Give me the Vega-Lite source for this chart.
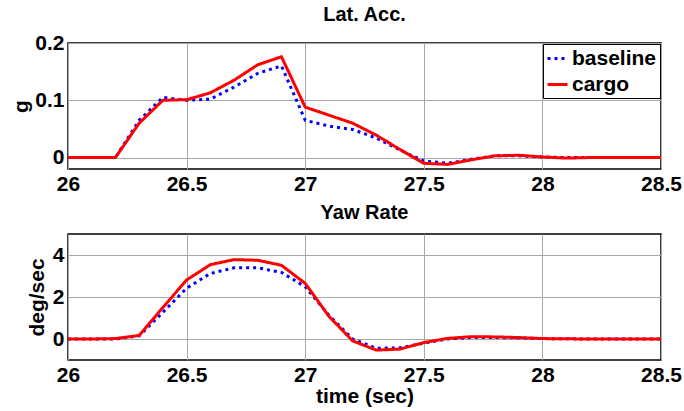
{
  "$schema": "https://vega.github.io/schema/vega-lite/v6.json",
  "background": "white",
  "padding": {"left": 10, "top": 4, "right": 4, "bottom": 2},
  "datasets": {
    "lat": [
      {"t": 26.0, "series": "baseline", "v": 0}, {"t": 26.0, "series": "cargo", "v": 0},
      {"t": 26.1, "series": "baseline", "v": 0}, {"t": 26.1, "series": "cargo", "v": 0},
      {"t": 26.2, "series": "baseline", "v": 0}, {"t": 26.2, "series": "cargo", "v": 0},
      {"t": 26.3, "series": "baseline", "v": 0.065}, {"t": 26.3, "series": "cargo", "v": 0.06},
      {"t": 26.4, "series": "baseline", "v": 0.105}, {"t": 26.4, "series": "cargo", "v": 0.1},
      {"t": 26.5, "series": "baseline", "v": 0.1}, {"t": 26.5, "series": "cargo", "v": 0.101},
      {"t": 26.6, "series": "baseline", "v": 0.102}, {"t": 26.6, "series": "cargo", "v": 0.113},
      {"t": 26.7, "series": "baseline", "v": 0.123}, {"t": 26.7, "series": "cargo", "v": 0.135},
      {"t": 26.8, "series": "baseline", "v": 0.147}, {"t": 26.8, "series": "cargo", "v": 0.162},
      {"t": 26.9, "series": "baseline", "v": 0.16}, {"t": 26.9, "series": "cargo", "v": 0.176},
      {"t": 27.0, "series": "baseline", "v": 0.065}, {"t": 27.0, "series": "cargo", "v": 0.088},
      {"t": 27.1, "series": "baseline", "v": 0.055}, {"t": 27.1, "series": "cargo", "v": 0.074},
      {"t": 27.2, "series": "baseline", "v": 0.049}, {"t": 27.2, "series": "cargo", "v": 0.06},
      {"t": 27.3, "series": "baseline", "v": 0.034}, {"t": 27.3, "series": "cargo", "v": 0.039},
      {"t": 27.4, "series": "baseline", "v": 0.013}, {"t": 27.4, "series": "cargo", "v": 0.014},
      {"t": 27.5, "series": "baseline", "v": -0.006}, {"t": 27.5, "series": "cargo", "v": -0.01},
      {"t": 27.6, "series": "baseline", "v": -0.01}, {"t": 27.6, "series": "cargo", "v": -0.012},
      {"t": 27.7, "series": "baseline", "v": -0.003}, {"t": 27.7, "series": "cargo", "v": -0.004},
      {"t": 27.8, "series": "baseline", "v": 0.003}, {"t": 27.8, "series": "cargo", "v": 0.003},
      {"t": 27.9, "series": "baseline", "v": 0.003}, {"t": 27.9, "series": "cargo", "v": 0.004},
      {"t": 28.0, "series": "baseline", "v": 0.001}, {"t": 28.0, "series": "cargo", "v": 0.001},
      {"t": 28.1, "series": "baseline", "v": 0}, {"t": 28.1, "series": "cargo", "v": -0.001},
      {"t": 28.2, "series": "baseline", "v": 0}, {"t": 28.2, "series": "cargo", "v": 0},
      {"t": 28.3, "series": "baseline", "v": 0}, {"t": 28.3, "series": "cargo", "v": 0},
      {"t": 28.4, "series": "baseline", "v": 0}, {"t": 28.4, "series": "cargo", "v": 0},
      {"t": 28.5, "series": "baseline", "v": 0}, {"t": 28.5, "series": "cargo", "v": 0}
    ],
    "yaw": [
      {"t": 26.0, "series": "baseline", "v": 0}, {"t": 26.0, "series": "cargo", "v": 0},
      {"t": 26.1, "series": "baseline", "v": 0}, {"t": 26.1, "series": "cargo", "v": 0},
      {"t": 26.2, "series": "baseline", "v": 0}, {"t": 26.2, "series": "cargo", "v": 0.02},
      {"t": 26.3, "series": "baseline", "v": 0.15}, {"t": 26.3, "series": "cargo", "v": 0.17},
      {"t": 26.4, "series": "baseline", "v": 1.27}, {"t": 26.4, "series": "cargo", "v": 1.5},
      {"t": 26.5, "series": "baseline", "v": 2.42}, {"t": 26.5, "series": "cargo", "v": 2.81},
      {"t": 26.6, "series": "baseline", "v": 3.12}, {"t": 26.6, "series": "cargo", "v": 3.54},
      {"t": 26.7, "series": "baseline", "v": 3.39}, {"t": 26.7, "series": "cargo", "v": 3.78},
      {"t": 26.8, "series": "baseline", "v": 3.39}, {"t": 26.8, "series": "cargo", "v": 3.75},
      {"t": 26.9, "series": "baseline", "v": 3.17}, {"t": 26.9, "series": "cargo", "v": 3.51},
      {"t": 27.0, "series": "baseline", "v": 2.49}, {"t": 27.0, "series": "cargo", "v": 2.65},
      {"t": 27.1, "series": "baseline", "v": 1.13}, {"t": 27.1, "series": "cargo", "v": 1.08},
      {"t": 27.2, "series": "baseline", "v": 0.0}, {"t": 27.2, "series": "cargo", "v": -0.09},
      {"t": 27.3, "series": "baseline", "v": -0.44}, {"t": 27.3, "series": "cargo", "v": -0.53},
      {"t": 27.4, "series": "baseline", "v": -0.42}, {"t": 27.4, "series": "cargo", "v": -0.48},
      {"t": 27.5, "series": "baseline", "v": -0.2}, {"t": 27.5, "series": "cargo", "v": -0.17},
      {"t": 27.6, "series": "baseline", "v": 0.0}, {"t": 27.6, "series": "cargo", "v": 0.03},
      {"t": 27.7, "series": "baseline", "v": 0.07}, {"t": 27.7, "series": "cargo", "v": 0.11},
      {"t": 27.8, "series": "baseline", "v": 0.07}, {"t": 27.8, "series": "cargo", "v": 0.1},
      {"t": 27.9, "series": "baseline", "v": 0.05}, {"t": 27.9, "series": "cargo", "v": 0.07},
      {"t": 28.0, "series": "baseline", "v": 0.02}, {"t": 28.0, "series": "cargo", "v": 0.02},
      {"t": 28.1, "series": "baseline", "v": 0.01}, {"t": 28.1, "series": "cargo", "v": 0.01},
      {"t": 28.2, "series": "baseline", "v": 0}, {"t": 28.2, "series": "cargo", "v": 0},
      {"t": 28.3, "series": "baseline", "v": 0}, {"t": 28.3, "series": "cargo", "v": 0},
      {"t": 28.4, "series": "baseline", "v": 0}, {"t": 28.4, "series": "cargo", "v": 0},
      {"t": 28.5, "series": "baseline", "v": 0}, {"t": 28.5, "series": "cargo", "v": 0}
    ]
  },
  "config": {
    "font": "Liberation Sans",
    "view": {"stroke": "black", "strokeWidth": 1.5},
    "axis": {
      "labelFont": "Liberation Sans", "labelFontSize": 21, "labelFontWeight": "bold", "labelColor": "black",
      "titleFont": "Liberation Sans", "titleFontSize": 21, "titleFontWeight": "bold", "titleColor": "black",
      "grid": true, "gridColor": "#a8a8a8", "gridWidth": 1, "ticks": false, "domain": false, "labelPadding": 4
    },
    "title": {"font": "Liberation Sans", "fontSize": 20, "fontWeight": "bold", "color": "black"},
    "legend": {
      "labelFont": "Liberation Sans", "labelFontSize": 21, "labelFontWeight": "bold", "labelColor": "black"
    }
  },
  "bounds": "flush",
  "spacing": 65,
  "vconcat": [
    {
      "width": 593, "height": 126,
      "title": {"text": "Lat. Acc.", "offset": 7},
      "data": {"name": "lat"},
      "mark": {"type": "line", "strokeWidth": 3},
      "encoding": {
        "x": {"field": "t", "type": "quantitative", "scale": {"domain": [26, 28.5], "nice": false, "zero": false},
              "axis": {"values": [26, 26.5, 27, 27.5, 28, 28.5], "title": null, "labelFlush": false, "format": "~g"}},
        "y": {"field": "v", "type": "quantitative", "scale": {"domain": [-0.02, 0.2], "nice": false, "zero": false},
              "axis": {"values": [0, 0.1, 0.2], "title": "g", "titlePadding": 3, "format": "~g"}},
        "color": {"field": "series", "type": "nominal",
                  "scale": {"domain": ["baseline", "cargo"], "range": ["#0000ff", "#ff0000"]},
                  "legend": {"title": null, "orient": "top-right", "offset": 1, "symbolType": "stroke", "symbolStrokeWidth": 3, "symbolSize": 400, "strokeColor": "black", "fillColor": "white", "padding": 3, "rowPadding": 4, "labelOffset": 3, "cornerRadius": 0}},
        "strokeDash": {"field": "series", "type": "nominal",
                  "scale": {"domain": ["baseline", "cargo"], "range": [[3, 4], [1, 0]]},
                  "legend": {"title": null, "orient": "top-right", "offset": 1, "symbolType": "stroke", "symbolStrokeWidth": 3, "symbolSize": 400, "strokeColor": "black", "fillColor": "white", "padding": 3, "rowPadding": 4, "labelOffset": 3, "cornerRadius": 0}}
      }
    },
    {
      "width": 593, "height": 126,
      "title": {"text": "Yaw Rate", "offset": 11},
      "data": {"name": "yaw"},
      "mark": {"type": "line", "strokeWidth": 3},
      "encoding": {
        "x": {"field": "t", "type": "quantitative", "scale": {"domain": [26, 28.5], "nice": false, "zero": false},
              "axis": {"values": [26, 26.5, 27, 27.5, 28, 28.5], "title": "time (sec)", "titlePadding": 0, "labelFlush": false, "format": "~g"}},
        "y": {"field": "v", "type": "quantitative", "scale": {"domain": [-1, 5], "nice": false, "zero": false},
              "axis": {"values": [0, 2, 4], "title": "deg/sec", "titlePadding": 5, "format": "~g"}},
        "color": {"field": "series", "type": "nominal",
                  "scale": {"domain": ["baseline", "cargo"], "range": ["#0000ff", "#ff0000"]}, "legend": null},
        "strokeDash": {"field": "series", "type": "nominal",
                  "scale": {"domain": ["baseline", "cargo"], "range": [[3, 4], [1, 0]]}, "legend": null}
      }
    }
  ],
  "resolve": {
    "scale": {"color": "independent", "strokeDash": "independent", "x": "independent", "y": "independent"},
    "legend": {"color": "independent", "strokeDash": "independent"}
  }
}
